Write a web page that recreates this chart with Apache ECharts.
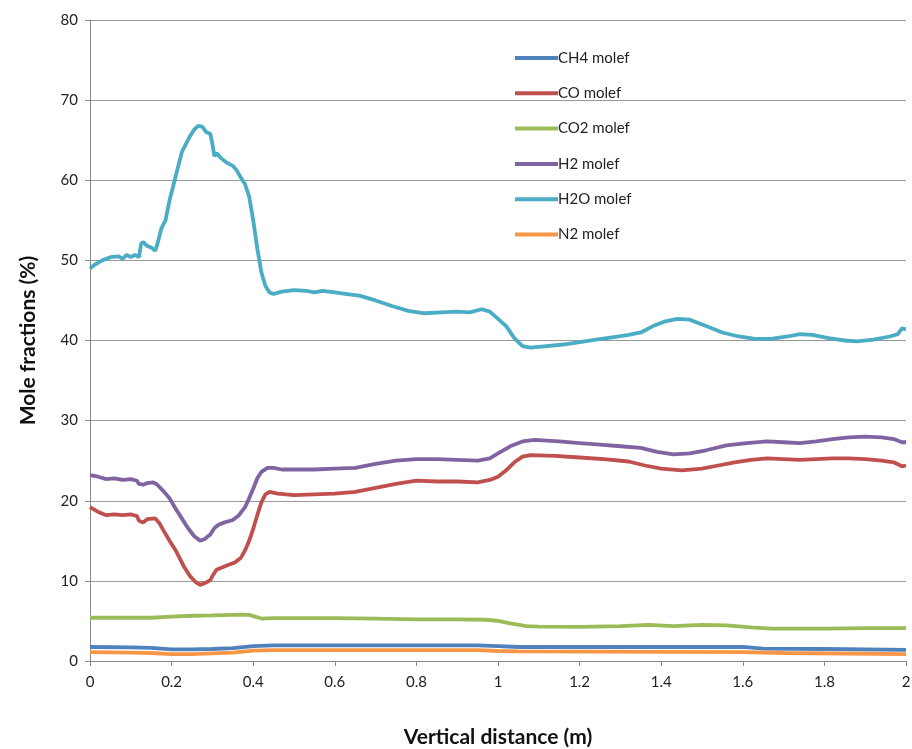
<!DOCTYPE html>
<html>
<head>
<meta charset="utf-8">
<script src="https://cdn.jsdelivr.net/npm/echarts@6/dist/echarts.min.js"></script>
<style>html,body{margin:0;padding:0;background:#fff}#c{width:912px;height:749px}</style>
</head>
<body>
<div id="c"></div>
<script>
const seriesNames = ['CH4 molef','CO molef','CO2 molef','H2 molef','H2O molef','N2 molef'];
const xTicks = [0,0.2,0.4,0.6,0.8,1,1.2,1.4,1.6,1.8,2];
const yTicks = [0,10,20,30,40,50,60,70,80];

const ch4 = [[0,1.75],[0.1,1.7],[0.15,1.65],[0.2,1.45],[0.25,1.45],[0.3,1.5],[0.35,1.6],[0.4,1.85],[0.45,1.95],[0.6,1.95],[0.8,1.95],[0.95,1.95],[1.0,1.85],[1.05,1.75],[1.3,1.75],[1.6,1.75],[1.65,1.55],[1.8,1.5],[2.0,1.4]];

const co = [[0,19.2],[0.02,18.6],[0.04,18.2],[0.06,18.3],[0.08,18.2],[0.10,18.3],[0.115,18.1],[0.12,17.5],[0.13,17.3],[0.14,17.7],[0.16,17.8],[0.17,17.2],[0.18,16.3],[0.195,15.0],[0.21,13.8],[0.22,12.8],[0.23,11.8],[0.245,10.6],[0.26,9.8],[0.27,9.5],[0.285,9.8],[0.295,10.1],[0.30,10.6],[0.31,11.4],[0.325,11.7],[0.34,12.0],[0.355,12.3],[0.37,12.9],[0.38,13.8],[0.39,15.0],[0.40,16.5],[0.41,18.2],[0.42,19.8],[0.43,20.8],[0.44,21.1],[0.46,20.9],[0.50,20.7],[0.55,20.8],[0.60,20.9],[0.65,21.1],[0.70,21.6],[0.75,22.1],[0.80,22.5],[0.85,22.4],[0.90,22.4],[0.95,22.3],[0.98,22.6],[1.00,23.0],[1.02,23.8],[1.04,24.8],[1.06,25.5],[1.08,25.7],[1.14,25.6],[1.20,25.4],[1.26,25.2],[1.32,24.9],[1.36,24.4],[1.40,24.0],[1.45,23.8],[1.50,24.0],[1.54,24.4],[1.58,24.8],[1.62,25.1],[1.66,25.3],[1.70,25.2],[1.74,25.1],[1.78,25.2],[1.82,25.3],[1.86,25.3],[1.90,25.2],[1.94,25.0],[1.97,24.8],[1.99,24.3],[2.0,24.4]];

const co2 = [[0,5.4],[0.15,5.4],[0.2,5.55],[0.25,5.65],[0.3,5.7],[0.37,5.8],[0.39,5.75],[0.42,5.3],[0.45,5.35],[0.6,5.35],[0.7,5.3],[0.8,5.2],[0.9,5.2],[0.97,5.15],[1.0,5.0],[1.03,4.7],[1.07,4.35],[1.1,4.3],[1.2,4.25],[1.3,4.35],[1.37,4.5],[1.43,4.35],[1.5,4.5],[1.56,4.45],[1.62,4.2],[1.67,4.05],[1.8,4.05],[1.9,4.1],[2.0,4.1]];

const h2 = [[0,23.2],[0.02,23.0],[0.04,22.7],[0.06,22.8],[0.08,22.6],[0.10,22.7],[0.115,22.5],[0.12,22.1],[0.13,22.0],[0.14,22.2],[0.155,22.3],[0.165,22.0],[0.18,21.2],[0.195,20.3],[0.21,19.0],[0.225,17.8],[0.24,16.6],[0.255,15.6],[0.27,15.0],[0.28,15.2],[0.295,15.8],[0.305,16.6],[0.315,17.0],[0.33,17.3],[0.35,17.6],[0.365,18.2],[0.38,19.2],[0.39,20.3],[0.40,21.5],[0.41,22.8],[0.42,23.6],[0.435,24.1],[0.45,24.1],[0.47,23.9],[0.50,23.9],[0.55,23.9],[0.60,24.0],[0.65,24.1],[0.70,24.6],[0.75,25.0],[0.80,25.2],[0.85,25.2],[0.90,25.1],[0.95,25.0],[0.98,25.3],[1.00,25.9],[1.03,26.8],[1.06,27.4],[1.09,27.6],[1.15,27.4],[1.20,27.2],[1.25,27.0],[1.30,26.8],[1.35,26.6],[1.39,26.1],[1.43,25.8],[1.47,25.9],[1.51,26.3],[1.56,26.9],[1.61,27.2],[1.66,27.4],[1.70,27.3],[1.74,27.2],[1.78,27.4],[1.82,27.7],[1.86,27.9],[1.90,28.0],[1.94,27.9],[1.97,27.7],[1.99,27.3],[2.0,27.3]];

const h2o = [[0,49.0],[0.01,49.4],[0.03,50.0],[0.05,50.4],[0.07,50.5],[0.08,50.2],[0.09,50.7],[0.10,50.4],[0.11,50.7],[0.12,50.4],[0.125,52.0],[0.13,52.3],[0.14,51.8],[0.15,51.6],[0.16,51.2],[0.165,52.0],[0.175,54.0],[0.185,55.0],[0.195,57.5],[0.205,59.5],[0.215,61.5],[0.225,63.5],[0.235,64.5],[0.245,65.5],[0.255,66.3],[0.265,66.8],[0.275,66.7],[0.285,66.0],[0.295,65.8],[0.30,64.5],[0.305,63.0],[0.31,63.4],[0.32,62.8],[0.335,62.2],[0.35,61.8],[0.36,61.2],[0.37,60.3],[0.38,59.5],[0.39,58.0],[0.40,55.0],[0.41,51.5],[0.42,48.5],[0.43,46.8],[0.44,46.0],[0.45,45.8],[0.47,46.1],[0.50,46.3],[0.53,46.2],[0.55,46.0],[0.57,46.2],[0.60,46.0],[0.63,45.8],[0.66,45.6],[0.70,45.0],[0.74,44.3],[0.78,43.7],[0.82,43.4],[0.86,43.5],[0.90,43.6],[0.93,43.5],[0.96,43.9],[0.98,43.6],[1.00,42.7],[1.02,41.8],[1.04,40.3],[1.06,39.3],[1.08,39.1],[1.12,39.3],[1.16,39.5],[1.20,39.8],[1.24,40.1],[1.28,40.4],[1.32,40.7],[1.35,41.0],[1.38,41.8],[1.41,42.4],[1.44,42.7],[1.47,42.6],[1.51,41.8],[1.55,41.0],[1.59,40.5],[1.63,40.2],[1.67,40.2],[1.71,40.5],[1.74,40.8],[1.77,40.7],[1.81,40.3],[1.85,40.0],[1.88,39.9],[1.92,40.1],[1.96,40.5],[1.98,40.8],[1.99,41.5],[2.0,41.4]];

const n2 = [[0,1.1],[0.1,1.05],[0.15,1.0],[0.2,0.85],[0.25,0.85],[0.3,0.95],[0.35,1.05],[0.4,1.3],[0.45,1.35],[0.8,1.35],[0.95,1.35],[1.0,1.25],[1.05,1.2],[1.6,1.1],[1.7,1.0],[2.0,0.85]];

const allData = [ch4, co, co2, h2, h2o, n2];
const colors = ['#4F81BD','#C0504D','#9BBB59','#8064A2','#4BACC6','#F79646'];
const font = 'Lato, "Open Sans", sans-serif';

const chart = echarts.init(document.getElementById('c'));
chart.setOption({
  animation: false,
  color: colors,
  grid: {left: 90, right: 6, top: 20, bottom: 88, outerBoundsMode: 'none', containLabel: false},
  legend: {
    orient: 'vertical', left: 510, top: 45.5,
    itemWidth: 43, itemHeight: 4, itemGap: 20.3, icon: 'rect',
    textStyle: {fontFamily: font, fontSize: 15, color: '#222', padding: [0,0,0,-5]},
    data: seriesNames
  },
  xAxis: {
    type: 'value', min: 0, max: 2, interval: 0.2,
    name: 'Vertical distance (m)', nameLocation: 'middle', nameGap: 66,
    nameTextStyle: {fontFamily: font, fontSize: 21, fontWeight: 'bold', color: '#111'},
    axisLine: {show: true, lineStyle: {color: '#888', width: 1}},
    axisTick: {show: true, length: 5, lineStyle: {color: '#888'}},
    axisLabel: {fontFamily: font, fontSize: 15, color: '#222', margin: 14,
      formatter: v => { const t = xTicks.find(k => Math.abs(k - v) < 1e-6); return t === undefined ? '' : String(t); }},
    splitLine: {show: false}
  },
  yAxis: {
    type: 'value', min: 0, max: 80, interval: 10,
    name: 'Mole fractions (%)', nameLocation: 'middle', nameGap: 51,
    nameTextStyle: {fontFamily: font, fontSize: 21, fontWeight: 'bold', color: '#111'},
    axisLine: {show: true, lineStyle: {color: '#888', width: 1}},
    axisTick: {show: true, length: 5, lineStyle: {color: '#888'}},
    axisLabel: {fontFamily: font, fontSize: 15, color: '#222', margin: 12,
      formatter: v => { const t = yTicks.find(k => Math.abs(k - v) < 1e-6); return t === undefined ? '' : String(t); }},
    splitLine: {show: true, lineStyle: {color: '#999', width: 1}}
  },
  series: seriesNames.map((n, i) => ({
    name: n, type: 'line', data: allData[i], showSymbol: false, symbol: 'none',
    lineStyle: {width: 3.8, color: colors[i]}, itemStyle: {color: colors[i]},
    z: i === 4 ? 3 : 2
  }))
});
</script>
</body>
</html>
